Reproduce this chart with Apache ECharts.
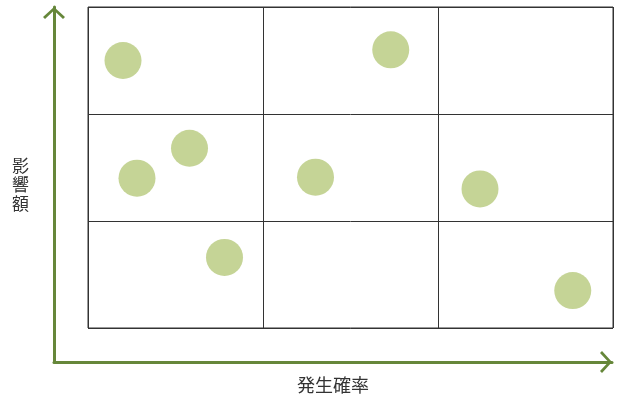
<!DOCTYPE html>
<html>
<head>
<meta charset="utf-8">
<script src="https://cdn.jsdelivr.net/npm/echarts@6/dist/echarts.min.js"></script>
<style>
html,body{margin:0;padding:0;background:#fff;}
#chart{width:617px;height:399px;}
</style>
</head>
<body>
<div id="chart"></div>
<script>
// Data (0–3 scale: 3 probability columns x 3 impact rows)
const probability = [0.2, 1.73, 0.58, 0.28, 1.3, 2.24, 0.78, 2.77];
const impact      = [2.5, 2.6, 1.68, 1.4, 1.41, 1.3, 0.66, 0.35];
const xAxisTitle = '発生確率';
const yAxisTitle = '影響額';

const points = probability.map((x, i) => [x, impact[i]]);
const green = '#66873a';
const chevron = 'path://M0,10 L11,0 L22,10 L20,12 L11,3.6 L2,12 Z';

const chart = echarts.init(document.getElementById('chart'), null, {renderer: 'canvas'});
chart.setOption({
  animation: false,
  backgroundColor: '#ffffff',
  grid: [
    {left: 88, right: 4, top: 7, bottom: 71, show: true, borderColor: '#333', borderWidth: 1},
    {left: 54, right: 5, top: 7, bottom: 37}
  ],
  xAxis: [
    {gridIndex: 0, type: 'value', min: 0, max: 3, interval: 1,
      axisLine: {show: false}, axisTick: {show: false}, axisLabel: {show: false},
      splitLine: {show: true, lineStyle: {color: '#333', width: 1}}},
    {gridIndex: 1, type: 'value', min: 0, max: 1,
      axisLine: {show: true, symbol: ['none', chevron], symbolSize: [22, 12], symbolOffset: [0, -6],
        lineStyle: {color: green, width: 3}},
      axisTick: {show: false}, axisLabel: {show: false}, splitLine: {show: false},
      name: xAxisTitle, nameLocation: 'middle', nameGap: 14,
      nameTextStyle: {color: '#333', fontSize: 18, fontFamily: 'Noto Sans CJK JP'}}
  ],
  yAxis: [
    {gridIndex: 0, type: 'value', min: 0, max: 3, interval: 1,
      axisLine: {show: false}, axisTick: {show: false}, axisLabel: {show: false},
      splitLine: {show: true, lineStyle: {color: '#333', width: 1}}},
    {gridIndex: 1, type: 'value', min: 0, max: 1,
      axisLine: {show: true, symbol: ['none', chevron], symbolSize: [22, 12], symbolOffset: [0, -6],
        lineStyle: {color: green, width: 3}},
      axisTick: {show: false}, axisLabel: {show: false}, splitLine: {show: false},
      name: yAxisTitle.split('').join('\n'), nameLocation: 'middle', nameRotate: 0, nameGap: 25,
      nameTextStyle: {color: '#333', fontSize: 17, lineHeight: 19, fontFamily: 'Noto Sans CJK JP', align: 'right'}}
  ],
  series: [{
    type: 'scatter', xAxisIndex: 0, yAxisIndex: 0,
    data: points, symbol: 'circle', symbolSize: 37,
    itemStyle: {color: '#c5d496', opacity: 1},
    emphasis: {disabled: true}
  }]
});
</script>
</body>
</html>
